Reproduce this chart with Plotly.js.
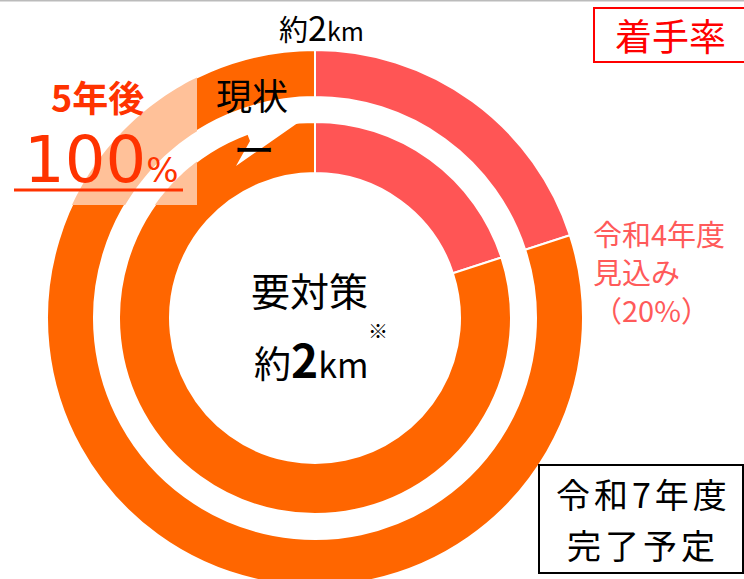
<!DOCTYPE html>
<html>
<head>
<meta charset="utf-8">
<script src="https://cdn.plot.ly/plotly-3.0.1.min.js"></script>
<style>
  html, body { margin: 0; padding: 0; overflow: hidden; background: #fff; }
  #chart { width: 744px; height: 640px; }
</style>
</head>
<body>
<div id="chart"></div>
<script>
// 着手率 data
const categories = ['令和4年度見込み', '令和7年度までの残り'];
const outerValues = [20, 80];   // 5年後
const innerValues = [20, 80];   // 現状
const sliceColors = ['#FF5555', '#FF6600'];
const pinkLabel = ['令和4年度', '見込み', '（20%）'];
const doneLabel = ['令和7年度', '完了予定'];

const W = 744, H = 640;
const px = x => x / W;
const py = y => 1 - y / H;

// ring geometry (pixels)
const cx = 315, cy = 318;
const outerRing = { r: 268, rIn: 221 };
const innerRing = { r: 196, rIn: 145 };

function domainFor(r) {
  return { x: [px(cx - r), px(cx + r)], y: [py(cy + r), py(cy - r)] };
}

function pieTrace(values, ring) {
  return {
    type: 'pie',
    labels: categories,
    values: values,
    sort: false,
    direction: 'clockwise',
    rotation: 0,
    hole: ring.rIn / ring.r,
    domain: domainFor(ring.r),
    textinfo: 'none',
    hoverinfo: 'none',
    marker: { colors: sliceColors, line: { color: '#ffffff', width: 2 } }
  };
}

// part of a ring inside the box x<=xMax, y<=yMax (peach "5年後" area)
function clipHalf(pts, inside, cut) {
  const out = [];
  for (let i = 0; i < pts.length; i++) {
    const a = pts[i], b = pts[(i + 1) % pts.length];
    const ia = inside(a), ib = inside(b);
    if (ia) out.push(a);
    if (ia !== ib) out.push(cut(a, b));
  }
  return out;
}

function ringPatch(ring, xMax, yMax) {
  let pts = [];
  const n = 90;
  for (let i = 0; i <= n; i++) {
    const t = (i / n) * Math.PI / 2;
    pts.push([cx - ring.r * Math.cos(t), cy - ring.r * Math.sin(t)]);
  }
  for (let i = n; i >= 0; i--) {
    const t = (i / n) * Math.PI / 2;
    pts.push([cx - ring.rIn * Math.cos(t), cy - ring.rIn * Math.sin(t)]);
  }
  pts = clipHalf(pts, p => p[0] <= xMax, (a, b) => {
    const k = (xMax - a[0]) / (b[0] - a[0]);
    return [xMax, a[1] + k * (b[1] - a[1])];
  });
  pts = clipHalf(pts, p => p[1] <= yMax, (a, b) => {
    const k = (yMax - a[1]) / (b[1] - a[1]);
    return [a[0] + k * (b[0] - a[0]), yMax];
  });
  return toPath(pts);
}

function toPath(pts) {
  return pts.map((p, i) => (i ? 'L' : 'M') + px(p[0]).toFixed(5) + ',' + py(p[1]).toFixed(5)).join(' ') + ' Z';
}

const peach = '#FFC199';
const arrowHead = [[312, 113], [238, 110], [250, 141], [236, 166]];

const shapes = [
  { type: 'path', xref: 'paper', yref: 'paper', layer: 'above', path: ringPatch(outerRing, 197, 205), fillcolor: peach, line: { width: 0 } },
  { type: 'path', xref: 'paper', yref: 'paper', layer: 'above', path: ringPatch(innerRing, 197, 205), fillcolor: peach, line: { width: 0 } },
  { type: 'path', xref: 'paper', yref: 'paper', layer: 'above', path: toPath(arrowHead), fillcolor: '#ffffff', line: { width: 0 } },
  { type: 'line', xref: 'paper', yref: 'paper', x0: px(14), x1: px(183), y0: py(190), y1: py(190), line: { color: '#FF3300', width: 3 } },
  { type: 'rect', xref: 'paper', yref: 'paper', x0: px(594), x1: px(746), y0: py(8), y1: py(62), line: { color: '#FF0000', width: 2 } },
  { type: 'rect', xref: 'paper', yref: 'paper', x0: px(539), x1: px(743), y0: py(465), y1: py(573), line: { color: '#000000', width: 2 } },
  { type: 'line', xref: 'paper', yref: 'paper', x0: 0, x1: 1, y0: py(0.5), y1: py(0.5), line: { color: '#bbbbbb', width: 2 } }
];

const JP = '"Noto Sans CJK JP", "Noto Sans", sans-serif';

function note(x, y, text, size, color, extra) {
  return Object.assign({
    xref: 'paper', yref: 'paper', x: px(x), y: py(y),
    xanchor: 'center', yanchor: 'middle', showarrow: false,
    text: text, font: { family: JP, size: size, color: color }
  }, extra || {});
}

const spaced = s => '<span style="letter-spacing:4px">' + s + '</span>';
const pinkY = [233, 271, 309];

const annotations = [
  note(321, 26, '約<span style="font-size:34px">2</span><span style="font-size:25px">km</span>', 29, '#000'),
  note(670, 35, '着手率', 37, '#FF0000'),
  ...pinkLabel.map((s, i) => note(591, pinkY[i], s, 29, '#FF5A5A', { xanchor: 'left', align: 'left' })),
  note(309, 289, '要対策', 39, '#000'),
  note(311, 358, '約<b><span style="font-size:46px">2</span></b><span style="font-size:34px">km</span>', 37, '#000'),
  note(378, 330, '※', 20, '#000'),
  note(97, 96, '<b>5年後</b>', 36, '#FF3300'),
  note(101, 160, '100<span style="font-size:34px">%</span>', 64, '#FF3300', { font: { family: '"DejaVu Sans", sans-serif', size: 64, color: '#FF3300' } }),
  note(252, 94, '現状', 36, '#000'),
  note(254, 148, 'ー', 42, '#000'),
  note(643, 493, spaced(doneLabel[0]), 34, '#000'),
  note(643, 544, spaced(doneLabel[1]), 34, '#000')
];

const layout = {
  width: W,
  height: H,
  margin: { l: 0, r: 0, t: 0, b: 0 },
  paper_bgcolor: '#ffffff',
  plot_bgcolor: '#ffffff',
  showlegend: false,
  shapes: shapes,
  annotations: annotations
};

Plotly.newPlot('chart', [pieTrace(outerValues, outerRing), pieTrace(innerValues, innerRing)], layout, { displayModeBar: false, staticPlot: true });
</script>
</body>
</html>
